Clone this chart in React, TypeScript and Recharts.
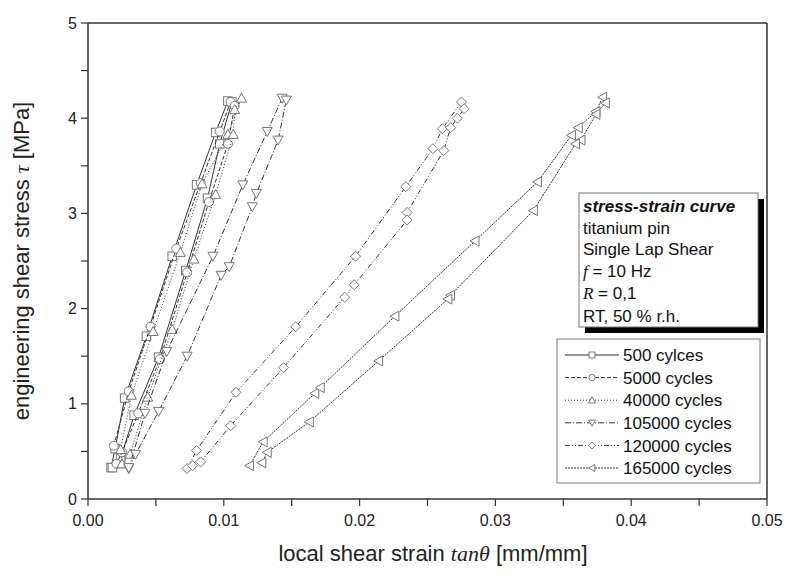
import React from 'react'
import { ReferenceLine, Scatter, ScatterChart, XAxis, YAxis } from 'recharts'

const strain500 = [0.0017, 0.002, 0.0027, 0.0043, 0.0062, 0.008, 0.0094, 0.0103, 0.0106, 0.0097, 0.0088, 0.0072, 0.0052, 0.0034, 0.0024, 0.0018]
const stress500 = [0.33, 0.53, 1.06, 1.71, 2.55, 3.3, 3.85, 4.18, 4.17, 3.73, 3.16, 2.4, 1.49, 0.88, 0.43, 0.33]

const strain5000 = [0.0019, 0.003, 0.0046, 0.0065, 0.0083, 0.0097, 0.0105, 0.0108, 0.0103, 0.0089, 0.0073, 0.0053, 0.0037, 0.0025, 0.0021]
const stress5000 = [0.56, 1.13, 1.81, 2.63, 3.32, 3.86, 4.17, 4.13, 3.73, 3.12, 2.38, 1.47, 0.9, 0.49, 0.37]

const strain40000 = [0.0025, 0.0024, 0.0032, 0.0048, 0.0068, 0.0084, 0.0103, 0.0113, 0.0108, 0.0107, 0.0094, 0.0078, 0.0062, 0.0044, 0.0031, 0.0025]
const stress40000 = [0.37, 0.52, 1.09, 1.76, 2.59, 3.31, 3.83, 4.21, 4.09, 3.83, 3.2, 2.52, 1.78, 1.07, 0.47, 0.37]

const strain105000 = [0.003, 0.0042, 0.0058, 0.0092, 0.0114, 0.0132, 0.0143, 0.0146, 0.014, 0.0124, 0.0121, 0.0104, 0.0098, 0.0073, 0.0052, 0.0035, 0.003]
const stress105000 = [0.32, 0.9, 1.55, 2.55, 3.3, 3.86, 4.21, 4.19, 3.77, 3.21, 3.07, 2.44, 2.35, 1.5, 0.92, 0.47, 0.33]

const strain120000 = [0.0073, 0.008, 0.0109, 0.0153, 0.0197, 0.0234, 0.0254, 0.0261, 0.0275, 0.0277, 0.0272, 0.0267, 0.0262, 0.0235, 0.0235, 0.0196, 0.0189, 0.0144, 0.0105, 0.0083, 0.0077]
const stress120000 = [0.32, 0.51, 1.12, 1.81, 2.55, 3.28, 3.68, 3.89, 4.17, 4.1, 4.0, 3.9, 3.66, 3.01, 2.93, 2.25, 2.12, 1.38, 0.77, 0.39, 0.35]

const strain165000 = [0.0119, 0.0129, 0.0167, 0.0171, 0.0226, 0.0285, 0.0331, 0.0356, 0.0361, 0.0374, 0.0379, 0.0381, 0.0374, 0.0363, 0.0359, 0.0328, 0.0267, 0.0265, 0.0214, 0.0163, 0.0132, 0.0128]
const stress165000 = [0.35, 0.6, 1.11, 1.17, 1.92, 2.71, 3.33, 3.82, 3.9, 4.07, 4.22, 4.16, 4.04, 3.77, 3.73, 3.03, 2.14, 2.1, 1.45, 0.81, 0.49, 0.38]

const xTicks = [0, 0.005, 0.01, 0.015, 0.02, 0.025, 0.03, 0.035, 0.04, 0.045, 0.05]
const yTicks = [0, 0.5, 1, 1.5, 2, 2.5, 3, 3.5, 4, 4.5, 5]

const infoLines = ['titanium pin', 'Single Lap Shear']

type Sym = 'square' | 'circle' | 'up' | 'down' | 'diamond' | 'left'

const SERIES: { name: string; strain: number[]; stress: number[]; sym: Sym; dash: string }[] = [
  { name: '500 cylces', strain: strain500, stress: stress500, sym: 'square', dash: '' },
  { name: '5000 cycles', strain: strain5000, stress: stress5000, sym: 'circle', dash: '4 2' },
  { name: '40000 cycles', strain: strain40000, stress: stress40000, sym: 'up', dash: '1 2' },
  { name: '105000 cycles', strain: strain105000, stress: stress105000, sym: 'down', dash: '6 2 1 2' },
  { name: '120000 cycles', strain: strain120000, stress: stress120000, sym: 'diamond', dash: '5 2 1 2 1 2' },
  { name: '165000 cycles', strain: strain165000, stress: stress165000, sym: 'left', dash: '2 1' },
]

const LINE = '#333'
const MARK = '#777'
const FONT = '"Liberation Sans", Arial, sans-serif'
const SERIF = '"Liberation Serif", serif'

function Marker({ cx, cy, sym, r = 5 }: { cx: number; cy: number; sym: Sym; r?: number }) {
  const p = { fill: '#fff', stroke: MARK, strokeWidth: 1 }
  if (cx == null || cy == null) return null
  switch (sym) {
    case 'square':
      return <rect x={cx - r * 0.85} y={cy - r * 0.85} width={r * 1.7} height={r * 1.7} {...p} />
    case 'circle':
      return <circle cx={cx} cy={cy} r={r * 0.9} {...p} />
    case 'up':
      return <polygon points={`${cx},${cy - r} ${cx + r},${cy + r * 0.8} ${cx - r},${cy + r * 0.8}`} {...p} />
    case 'down':
      return <polygon points={`${cx},${cy + r} ${cx + r},${cy - r * 0.8} ${cx - r},${cy - r * 0.8}`} {...p} />
    case 'diamond':
      return <polygon points={`${cx},${cy - r} ${cx + r},${cy} ${cx},${cy + r} ${cx - r},${cy}`} {...p} />
    default:
      return <polygon points={`${cx - r},${cy} ${cx + r * 0.8},${cy - r} ${cx + r * 0.8},${cy + r}`} {...p} />
  }
}

function XTick({ x, y, payload }: any) {
  const v = payload.value
  if (Math.abs(v * 100 - Math.round(v * 100)) > 1e-6) return null
  return (
    <text x={x} y={y} dy="0.71em" textAnchor="middle" fontSize={16} fontFamily={FONT} fill="#222">
      {v.toFixed(2)}
    </text>
  )
}

function YTick({ x, y, payload }: any) {
  const v = payload.value
  if (!Number.isInteger(v)) return null
  return (
    <text x={x} y={y} dy="0.355em" textAnchor="end" fontSize={16} fontFamily={FONT} fill="#222">
      {v}
    </text>
  )
}

export default function App() {
  const W = 784
  const H = 567
  const rows = SERIES.map((s) => s.strain.map((x, i) => ({ x, y: s.stress[i] })))

  return (
    <div style={{ position: 'relative', width: W, height: H }}>
      <ScatterChart width={W} height={H} margin={{ top: 15, right: 25, left: 0, bottom: 0 }}>
        <XAxis
          type="number"
          dataKey="x"
          domain={[0, 0.05]}
          ticks={xTicks}
          interval={0}
          height={76}
          tickSize={7}
          tickMargin={9}
          tick={<XTick />}
          axisLine={{ stroke: '#333', strokeWidth: 1.5 }}
          tickLine={{ stroke: '#333', strokeWidth: 1.2 }}
        />
        <YAxis
          type="number"
          dataKey="y"
          domain={[0, 5]}
          ticks={yTicks}
          interval={0}
          width={80}
          tickSize={7}
          tickMargin={4}
          tick={<YTick />}
          axisLine={{ stroke: '#333', strokeWidth: 1.5 }}
          tickLine={{ stroke: '#333', strokeWidth: 1.2 }}
        />
        <ReferenceLine y={5} stroke="#333" strokeWidth={1.5} />
        <ReferenceLine x={0.05} stroke="#333" strokeWidth={1.5} />
        {SERIES.map((s, i) => (
          <Scatter
            key={s.name}
            name={s.name}
            data={rows[i]}
            isAnimationActive={false}
            line={{ stroke: LINE, strokeWidth: 1, strokeDasharray: s.dash || undefined }}
            lineType="joint"
            shape={(props: any) => <Marker cx={props.cx} cy={props.cy} sym={s.sym} />}
          />
        ))}
      </ScatterChart>

      <svg width={W} height={H} style={{ position: 'absolute', left: 0, top: 0, pointerEvents: 'none' }}>
        {/* axis titles */}
        <text transform="translate(21,253) rotate(-90)" textAnchor="middle" fontSize={22} fontFamily={FONT} fill="#222">
          engineering shear stress <tspan fontFamily={SERIF} fontStyle="italic">τ</tspan> [MPa]
        </text>
        <text x={425} y={553} textAnchor="middle" fontSize={22} fontFamily={FONT} fill="#222">
          local shear strain <tspan fontFamily={SERIF} fontStyle="italic">tanθ</tspan>{'  '}[mm/mm]
        </text>

        {/* info box */}
        <rect x={577} y={191} width={179} height={134} fill="#000" />
        <rect x={571} y={185} width={179} height={134} fill="#fff" stroke="#777" strokeWidth={1} />
        <g fontFamily={FONT} fontSize={17} fill="#111">
          <text x={575} y={204} fontWeight="bold" fontStyle="italic">stress-strain curve</text>
          <text x={575} y={226}>{infoLines[0]}</text>
          <text x={575} y={247}>{infoLines[1]}</text>
          <text x={575} y={269}>
            <tspan fontFamily={SERIF} fontStyle="italic">f</tspan> = 10 Hz
          </text>
          <text x={575} y={291}>
            <tspan fontFamily={SERIF} fontStyle="italic">R</tspan> = 0,1
          </text>
          <text x={575} y={314}>RT, 50 % r.h.</text>
        </g>

        {/* legend */}
        <rect x={549} y={331} width={203} height={144} fill="#fff" stroke="#777" strokeWidth={1} />
        {SERIES.map((s, i) => {
          const cy = 347 + i * 22.6
          return (
            <g key={s.name}>
              <line x1={557} x2={611} y1={cy} y2={cy} stroke={LINE} strokeWidth={1} strokeDasharray={s.dash || undefined} />
              <Marker cx={584} cy={cy} sym={s.sym} r={3.5} />
              <text x={615} y={cy} dy="0.36em" fontFamily={FONT} fontSize={17} fill="#111">
                {s.name}
              </text>
            </g>
          )
        })}
      </svg>
    </div>
  )
}
